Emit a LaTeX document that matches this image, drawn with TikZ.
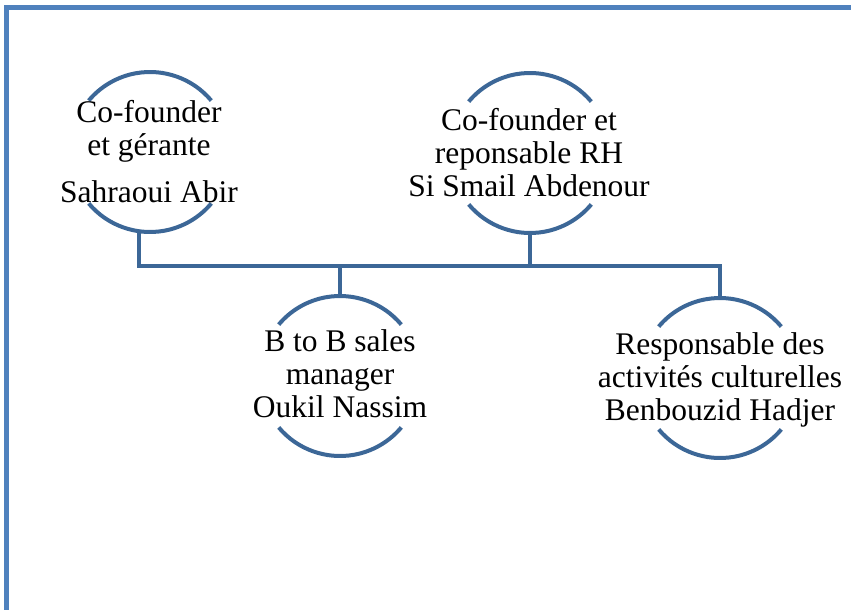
\documentclass[tikz,border=0pt]{standalone}
\usepackage{fontspec}
\setmainfont{Liberation Serif}
\definecolor{linec}{HTML}{3C6797}
\definecolor{framec}{HTML}{4F81BD}
\begin{document}
\begin{tikzpicture}[x=1pt,y=1pt,
  arcline/.style={draw=linec,line width=4pt},
  conn/.style={draw=linec,line width=4pt},
  frameline/.style={draw=framec,line width=5pt},
  role/.style={align=center,inner sep=0pt,anchor=base,font=\fontsize{31.5}{33}\selectfont},
  holder/.style={circle,minimum size=160pt,inner sep=0pt,outer sep=0pt,draw=none}]
\useasboundingbox (0,0) rectangle (851,-610);
\draw[frameline] (6,-610) -- (6,-8) -- (851,-8);
% circle holders
\node[holder] (c1) at (150,-152) {};
\node[holder] (c2) at (530,-153) {};
\node[holder] (c3) at (340,-376) {};
\node[holder] (c4) at (720,-378) {};
% arcs
\foreach \c in {c1,c2,c3,c4}{
  \draw[arcline] (\c.40) arc[start angle=40,end angle=140,radius=80pt];
  \draw[arcline] (\c.220) arc[start angle=220,end angle=320,radius=80pt];
}
% texts (base anchor = baseline of the last line)
\node[role] (t1) at (149,-202) {Co-founder\\et gérante\\[14pt]Sahraoui Abir};
\node[role] (t2) at (529,-196) {Co-founder et\\reponsable RH\\Si Smail Abdenour};
\node[role] (t3) at (340,-417) {B to B sales\\manager\\Oukil Nassim};
\node[role] (t4) at (720,-420) {Responsable des\\activités culturelles\\Benbouzid Hadjer};
% connectors
\coordinate (b1) at (139,-266);
\coordinate (b4) at (720,-266);
\draw[conn] (b1 |- c1.south) -- (b1) -- (b4) -- (c4.north);
\draw[conn] (c2.south) -- (c2.south |- b1);
\draw[conn] (c3.north) -- (c3.north |- b1);
\end{tikzpicture}
\end{document}
